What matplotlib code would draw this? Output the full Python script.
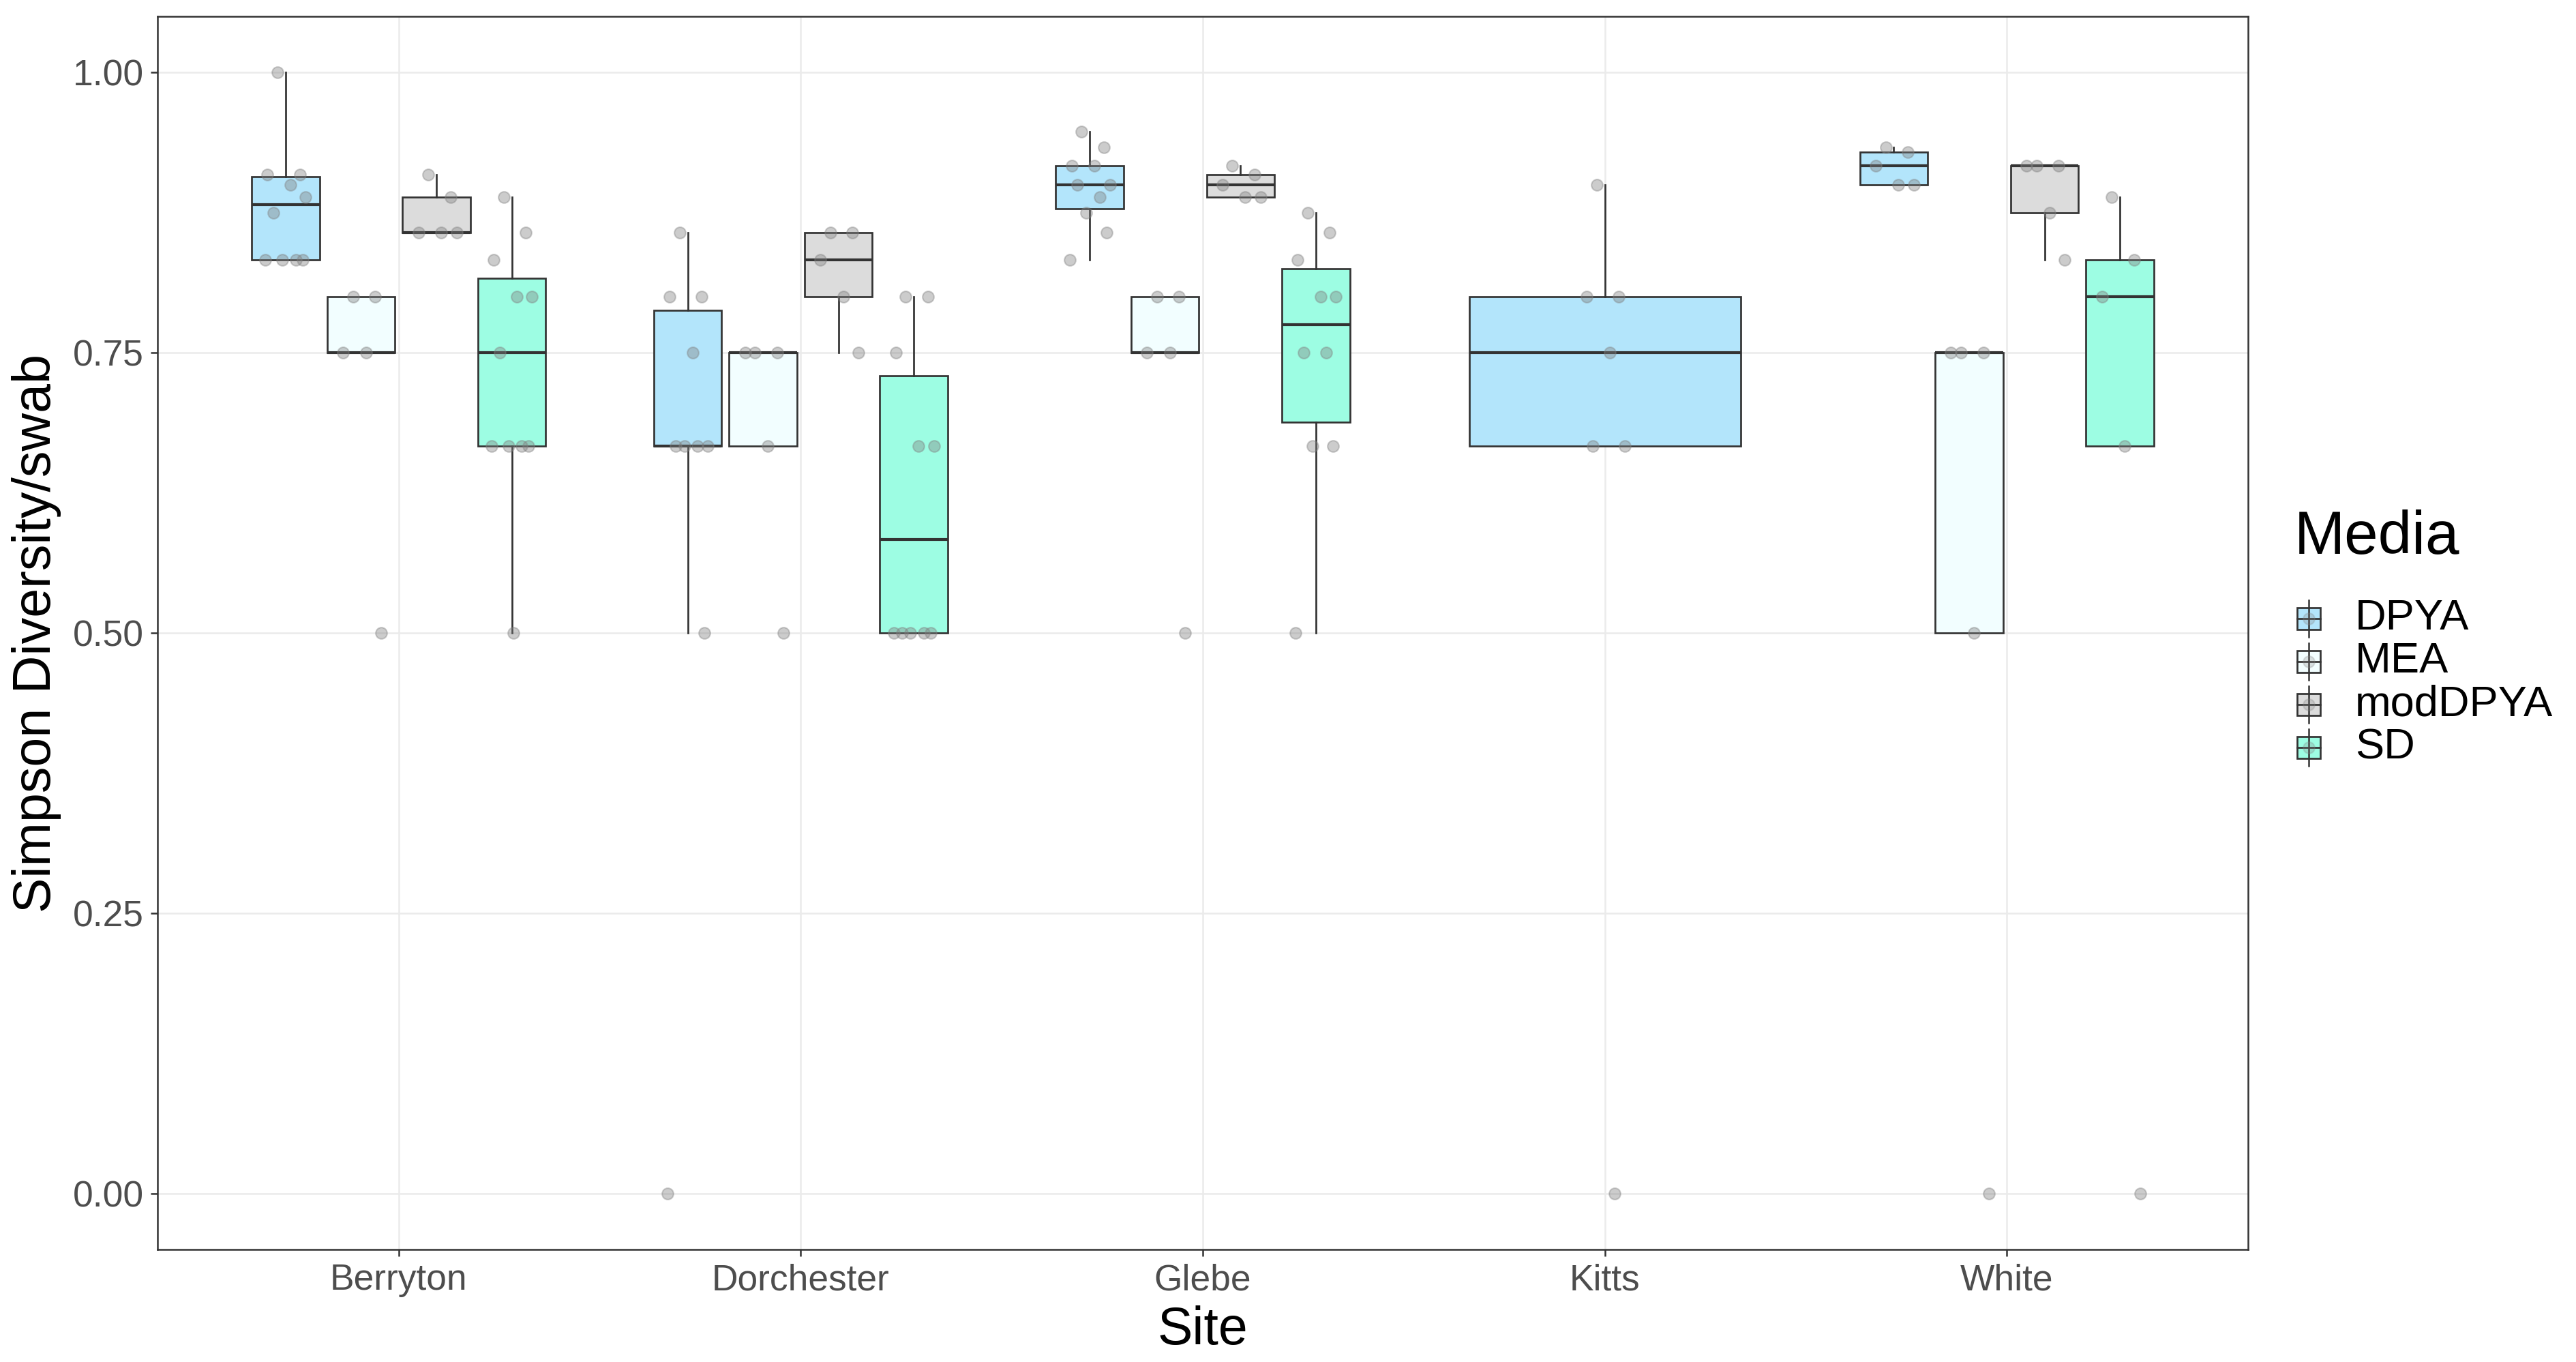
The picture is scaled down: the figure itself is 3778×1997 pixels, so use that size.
import matplotlib
matplotlib.use("Agg")
from matplotlib import pyplot as plt
from matplotlib.patches import Rectangle
from matplotlib.lines import Line2D

plt.rcParams['font.family'] = ['Liberation Sans', 'DejaVu Sans']

# sites on the x axis
SITES = ["Berryton", "Dorchester", "Glebe", "Kitts", "White"]
MEDIA = ["DPYA", "MEA", "modDPYA", "SD"]

# Simpson diversity per swab, one list per site (empty = media not sampled)
DPYA = [
    [1.0, 0.909, 0.909, 0.9, 0.889, 0.875, 0.833, 0.833, 0.833, 0.833],
    [0.857, 0.8, 0.8, 0.75, 0.667, 0.667, 0.667, 0.667, 0.5, 0.0],
    [0.947, 0.933, 0.917, 0.917, 0.9, 0.9, 0.889, 0.875, 0.857, 0.833],
    [0.9, 0.8, 0.8, 0.75, 0.667, 0.667, 0.0],
    [0.933, 0.929, 0.917, 0.9, 0.9],
]
MEA = [
    [0.8, 0.8, 0.75, 0.75, 0.5],
    [0.75, 0.75, 0.75, 0.667, 0.5],
    [0.8, 0.8, 0.75, 0.75, 0.5],
    [],
    [0.75, 0.75, 0.75, 0.5, 0.0],
]
MODDPYA = [
    [0.909, 0.889, 0.857, 0.857, 0.857],
    [0.857, 0.857, 0.833, 0.8, 0.75],
    [0.917, 0.909, 0.9, 0.889, 0.889],
    [],
    [0.917, 0.917, 0.917, 0.875, 0.833],
]
SD = [
    [0.889, 0.857, 0.833, 0.8, 0.8, 0.75, 0.667, 0.667, 0.667, 0.667, 0.5],
    [0.8, 0.8, 0.75, 0.667, 0.667, 0.5, 0.5, 0.5, 0.5, 0.5],
    [0.875, 0.857, 0.833, 0.8, 0.8, 0.75, 0.75, 0.667, 0.667, 0.5],
    [],
    [0.889, 0.833, 0.8, 0.667, 0.0],
]
SERIES = [DPYA, MEA, MODDPYA, SD]

FILLS = {"DPYA": "#B3E5FB", "MEA": "#F2FEFF", "modDPYA": "#DCDCDC", "SD": "#9DFDE3"}

# fixed horizontal spread for the points (stands in for ggplot's jitter)
SPREAD = [-0.02, 0.035, -0.045, 0.012, 0.05, -0.03, 0.025, -0.008, 0.042, -0.05, 0.004]

LINE = "#333333"
GRID = "#EBEBEB"
TICKTXT = "#4D4D4D"

W, H = 3779, 1997
fig = plt.figure(figsize=(W / 300, H / 300), dpi=300)
ax = fig.add_axes([231 / W, 1 - 1832 / H, (3297 - 231) / W, (1832 - 24) / H])

ax.set_xlim(0.4, 5.6)
ax.set_ylim(-0.05, 1.05)
ax.set_axisbelow(True)
ax.grid(True, color=GRID, linewidth=0.6)

for s, site in enumerate(SITES):
    present = [m for m in range(len(MEDIA)) if len(SERIES[m][s]) > 0]
    slot = 0.75 / len(present)
    for k, m in enumerate(present):
        vals = SERIES[m][s]
        xpos = s + 1 - 0.375 + slot * (k + 0.5)
        ax.boxplot([vals], positions=[xpos], widths=slot * 0.9, whis=1.5,
                   showfliers=False, showcaps=False, patch_artist=True,
                   boxprops=dict(facecolor=FILLS[MEDIA[m]], edgecolor=LINE, linewidth=0.65),
                   medianprops=dict(color=LINE, linewidth=1.0),
                   whiskerprops=dict(color=LINE, linewidth=0.65),
                   manage_ticks=False, zorder=2)
        xs = [xpos + SPREAD[i % len(SPREAD)] for i in range(len(vals))]
        ax.plot(xs, vals, linestyle="none", marker="o", markersize=4.0,
                markerfacecolor="#808080", markeredgecolor="#808080",
                markeredgewidth=0.5, alpha=0.4, zorder=3)

ax.set_xticks(range(1, len(SITES) + 1))
ax.set_xticklabels(SITES)
ax.set_yticks([0, 0.25, 0.5, 0.75, 1.0])
ax.set_yticklabels(["0.00", "0.25", "0.50", "0.75", "1.00"])
ax.tick_params(axis="both", direction="out", length=2.4, width=0.6, color=LINE,
               labelcolor=TICKTXT, labelsize=12.8, pad=2.4)
for sp in ax.spines.values():
    sp.set_color(LINE)
    sp.set_linewidth(0.6)

ax.set_xlabel("Site", fontsize=18.5, color="black", labelpad=3)
ax.set_ylabel("Simpson Diversity/swab", fontsize=18.5, color="black", labelpad=4)

# legend drawn as ggplot-style boxplot keys
fig.text(3365 / W, 1 - 789 / H, "Media", fontsize=21.4, ha="left", va="center")
key_x = 3386
for i, media in enumerate(MEDIA):
    cy = 907 + 63 * i
    fig.add_artist(Line2D([key_x / W, key_x / W], [1 - (cy - 27) / H, 1 - (cy + 27) / H],
                          transform=fig.transFigure, color=LINE, linewidth=0.6))
    fig.add_artist(Rectangle(((key_x - 17) / W, 1 - (cy + 16) / H), 34 / W, 32 / H,
                             transform=fig.transFigure, facecolor=FILLS[media],
                             edgecolor=LINE, linewidth=0.65))
    fig.add_artist(Line2D([(key_x - 17) / W, (key_x + 17) / W], [1 - cy / H, 1 - cy / H],
                          transform=fig.transFigure, color=LINE, linewidth=0.65))
    fig.add_artist(Line2D([key_x / W], [1 - cy / H], transform=fig.transFigure,
                          marker="o", markersize=4.0, markerfacecolor="#808080",
                          markeredgecolor="#808080", markeredgewidth=0.5, alpha=0.25))
    fig.text(3454 / W, 1 - cy / H, media, fontsize=15.2, ha="left", va="center")

fig.savefig("out.png", dpi=300, facecolor="white")
